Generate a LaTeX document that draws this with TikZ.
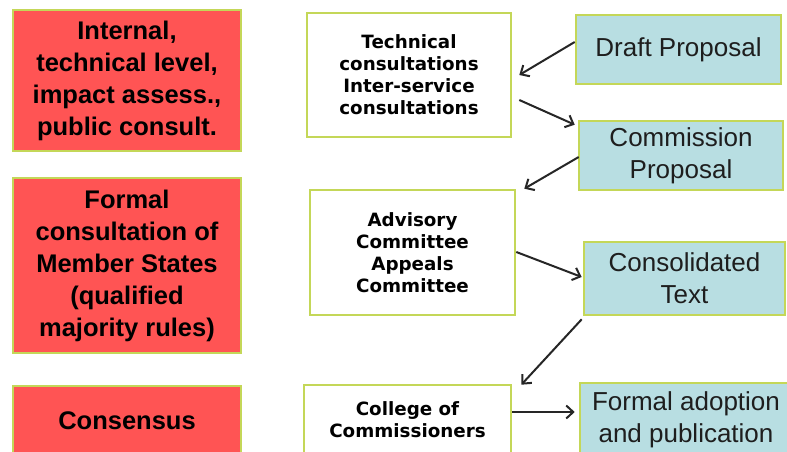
\documentclass[tikz,border=0pt]{standalone}
\usepackage{fontspec}
\setmainfont{Liberation Sans}
\newfontfamily\verd{DejaVu Sans}
\usetikzlibrary{arrows.meta,calc}
\definecolor{redfill}{RGB}{255,84,84}
\definecolor{bluefill}{RGB}{184,222,226}
\definecolor{edgegreen}{RGB}{196,215,88}
\definecolor{txtdark}{RGB}{30,30,30}
\tikzset{
  box/.style={draw=edgegreen, line width=2.6pt, rectangle, inner sep=0pt, align=center, anchor=center},
  redbox/.style={box, fill=redfill, font=\fontsize{25.5}{32}\selectfont\bfseries},
  whitebox/.style={box, fill=white, font=\verd\fontsize{18.3}{22}\selectfont\bfseries},
  bluebox/.style={box, fill=bluefill, text=txtdark, font=\fontsize{26}{32}\selectfont},
  conn/.style={draw=black!85, line width=2pt, -{Straight Barb[length=7pt,width=13pt,line width=2pt]}}
}
\begin{document}
\begin{tikzpicture}[x=1pt,y=-1pt]
\useasboundingbox (0,0) rectangle (787,452);
\clip (0,0) rectangle (787,452);
\fill[white] (0,0) rectangle (787,452);
% left column
\node[redbox, minimum width=228pt, minimum height=141pt] (r1) at (127,80.5) {Internal,\\technical level,\\impact assess.,\\public consult.};
\node[redbox, minimum width=228pt, minimum height=175pt] (r2) at (127,265.5) {Formal\\consultation of\\Member States\\(qualified\\majority rules)};
\node[redbox, minimum width=228pt, minimum height=70pt] (r3) at (127,421) {Consensus};
% middle column
\node[whitebox, minimum width=204pt, minimum height=124pt] (tech) at (409,75) {Technical\\consultations\\Inter-service\\consultations};
\node[whitebox, minimum width=205pt, minimum height=125pt] (adv) at (412.5,252.5) {Advisory\\Committee\\Appeals\\Committee};
\node[whitebox, minimum width=207pt, minimum height=70pt] (col) at (407.5,420) {College of\\Commissioners};
% right column
\node[bluebox, minimum width=205pt, minimum height=69pt] (draft) at (678.5,49.5) {Draft Proposal};
\node[bluebox, minimum width=204pt, minimum height=69pt] (comm) at (681,155.5) {Commission\\Proposal};
\node[bluebox, minimum width=201pt, minimum height=73pt] (cons) at (684.5,278.5) {Consolidated\\Text};
\node[bluebox, minimum width=212pt, minimum height=74pt] (formal) at (686,420) {Formal\ adoption\\and\ publication};
% connectors
\draw[conn] ($(draft.west)+(0,-7.5)$) -- ($(tech.east)+(7,0)$);
\draw[conn] ($(tech.east)+(7,25)$) -- ($(comm.north west)+(-3,5)$);
\draw[conn] ($(comm.west)+(1,1.5)$) -- ($(adv.north east)+(8,0)$);
\draw[conn] ($(adv.east)+(0,-0.5)$) -- ($(cons.west)+(-1,-1.5)$);
\draw[conn] ($(cons.south west)+(-1,3)$) -- ($(col.north east)+(9,1)$);
\draw[conn] ($(col.east)+(0,-8)$) -- ($(formal.west)+(-4,-8)$);
\end{tikzpicture}
\end{document}
